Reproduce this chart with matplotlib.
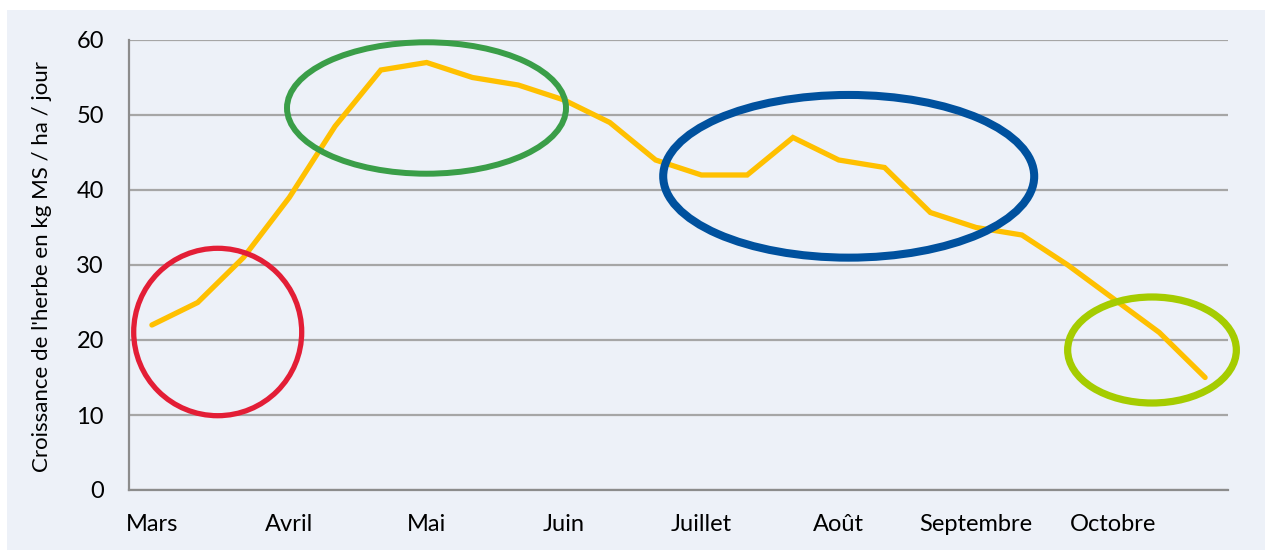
import matplotlib
matplotlib.use("Agg")
import matplotlib.pyplot as plt
from matplotlib.patches import Ellipse, Rectangle

# ---- data ----
months = ["Mars", "Avril", "Mai", "Juin", "Juillet", "Août", "Septembre", "Octobre"]
points_per_month = 3
growth = [22, 25, 31, 39, 48.5, 56, 57, 55, 54, 52, 49, 44,
          42, 42, 47, 44, 43, 37, 35, 34, 30, 25.5, 21, 15]
yticks = [0, 10, 20, 30, 40, 50, 60]
ylabel = "Croissance de l'herbe en kg MS / ha / jour"

# ---- figure ----
W, H, DPI = 1265, 550, 100
plt.rcParams["font.family"] = ["Lato", "DejaVu Sans"]
fig = plt.figure(figsize=(W / DPI, H / DPI), dpi=DPI, facecolor="white")

bg = "#EDF1F8"
fig.patches.append(Rectangle((7 / W, 0), 1 - 7 / W, 1 - 10 / H,
                             transform=fig.transFigure, facecolor=bg,
                             edgecolor="none", zorder=-10))

ax = fig.add_axes([129 / W, 1 - 490 / H, (1228 - 129) / W, (490 - 40) / H])
ax.set_zorder(5)
ax.patch.set_visible(False)

x = list(range(len(growth)))
ax.plot(x, growth, color="#FFC000", lw=3.8, solid_capstyle="round",
        solid_joinstyle="miter", zorder=3)

ax.set_xlim(-0.5, len(growth) - 0.5)
ax.set_ylim(0, 60)
ax.set_yticks(yticks)
ax.set_xticks(x[::points_per_month])
ax.set_xticklabels(months)
ax.tick_params(axis="both", length=0, labelsize=17, colors="black")
ax.tick_params(axis="y", pad=18)
ax.tick_params(axis="x", pad=17)
ax.grid(axis="y", color="#A6A6A6", lw=1.6, zorder=1)
ax.set_axisbelow(True)
for s in ["top", "right"]:
    ax.spines[s].set_visible(False)
for s in ["left", "bottom"]:
    ax.spines[s].set_color("#8C8C8C")
    ax.spines[s].set_linewidth(1.6)

fig.text(42 / W, 1 - 266 / H, ylabel, rotation=90, ha="center", va="center",
         fontsize=16, color="black")

# ---- highlight ellipses (pixel geometry -> data coords) ----
xw = (1228 - 129) / len(growth)
def px2data(px, py):
    return (px - 129) / xw - 0.5, (490 - py) / 7.5

ellipses = [
    (217.7, 332.0, 168.0, 167.4, "#E31E36", 3.8),
    (426.5, 108.0, 279.0, 131.4, "#3A9E48", 4.3),
    (848.7, 176.3, 371.0, 162.7, "#00519E", 5.8),
    (1152.0, 350.0, 168.7, 106.0, "#A5CC00", 5.2),
]
for cx, cy, w, h, col, lw in ellipses:
    dx, dy = px2data(cx, cy)
    e = Ellipse((dx, dy), w / xw, h / 7.5, facecolor="none", edgecolor=col,
                lw=lw, clip_on=False, zorder=4)
    ax.add_patch(e)

fig.savefig("out.png", dpi=DPI, facecolor="white")
